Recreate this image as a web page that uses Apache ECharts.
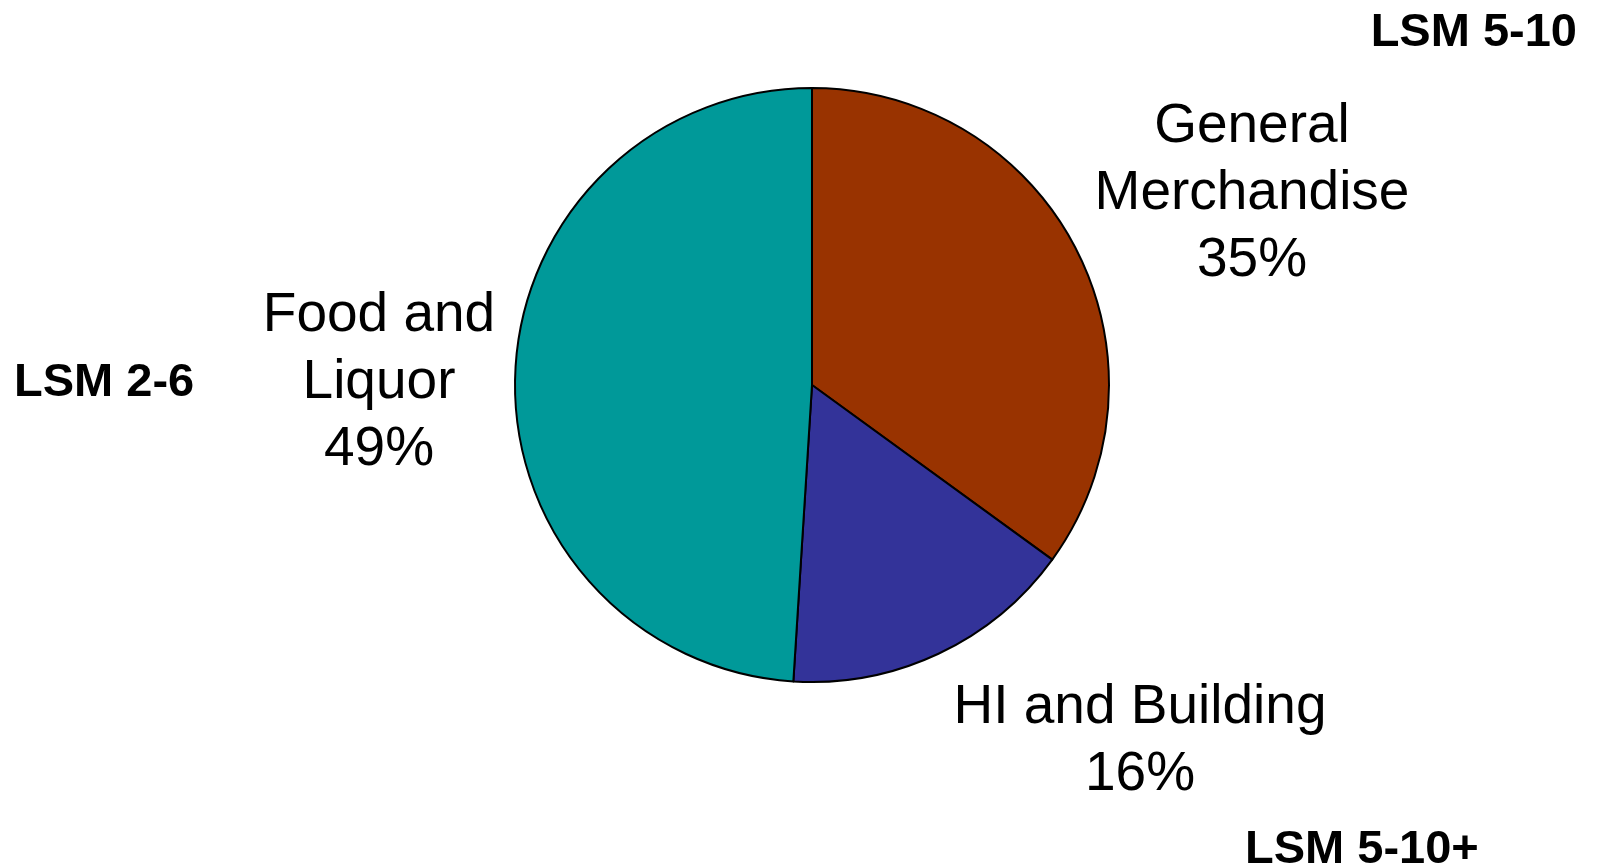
<!DOCTYPE html>
<html>
<head>
<meta charset="utf-8">
<script src="https://cdn.jsdelivr.net/npm/echarts@6/dist/echarts.min.js"></script>
<style>
html,body{margin:0;padding:0;background:#fff;}
#chart{width:1599px;height:866px;}
</style>
</head>
<body>
<div id="chart"></div>
<script>
const categories = ['General Merchandise', 'HI and Building', 'Food and Liquor'];
const labelTexts = ['General\nMerchandise', 'HI and Building', 'Food and\nLiquor'];
const values = [35, 16, 49];
const sideNotes = ['LSM 5-10', 'LSM 2-6', 'LSM 5-10+'];

const colors = ['#993300', '#333399', '#009999'];
const labelPos = [[1252, 194], [1140, 741], [379, 383]];
const FONT = 'Arial, "Liberation Sans", sans-serif';

const chart = echarts.init(document.getElementById('chart'));
chart.setOption({
  backgroundColor: '#ffffff',
  animation: false,
  series: [{
    type: 'pie',
    center: [812, 385],
    radius: 297,
    startAngle: 90,
    clockwise: true,
    avoidLabelOverlap: false,
    data: categories.map((c, i) => ({
      name: c, value: values[i],
      itemStyle: { color: colors[i], borderColor: '#000', borderWidth: 2 }
    })),
    label: {
      show: true,
      position: 'outside',
      formatter: p => labelTexts[p.dataIndex] + '\n' + p.value + '%',
      fontFamily: FONT,
      fontSize: 55,
      lineHeight: 67,
      color: '#000',
      align: 'center'
    },
    labelLine: { show: false },
    labelLayout: p => ({
      x: labelPos[p.dataIndex][0],
      y: labelPos[p.dataIndex][1],
      align: 'center',
      verticalAlign: 'middle'
    }),
    emphasis: { disabled: true }
  }],
  graphic: [
    { type: 'text', x: 1577, y: 33, style: { text: sideNotes[0], font: 'bold 47px ' + FONT, fill: '#000', textAlign: 'right', textVerticalAlign: 'middle' } },
    { type: 'text', x: 14, y: 383, style: { text: sideNotes[1], font: 'bold 47px ' + FONT, fill: '#000', textAlign: 'left', textVerticalAlign: 'middle' } },
    { type: 'text', x: 1245, y: 850, style: { text: sideNotes[2], font: 'bold 47px ' + FONT, fill: '#000', textAlign: 'left', textVerticalAlign: 'middle' } }
  ]
});
</script>
</body>
</html>
